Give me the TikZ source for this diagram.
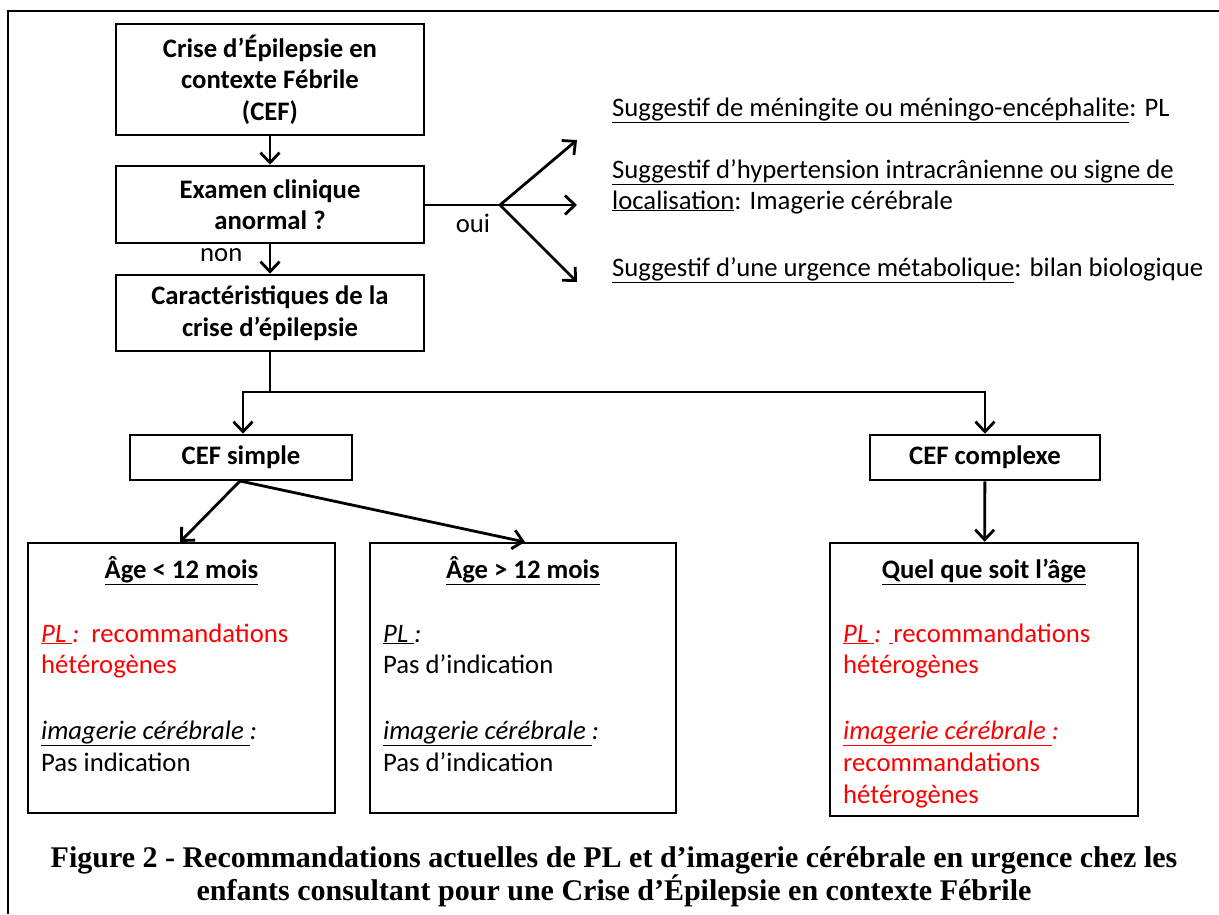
\documentclass[tikz,border=0pt]{standalone}
\usepackage{fontspec}
\setmainfont{Carlito}
\newfontfamily\capfont{Liberation Serif}
\usetikzlibrary{arrows.meta}
\definecolor{redtxt}{RGB}{255,0,0}
\begin{document}
\begin{tikzpicture}[x=1pt,y=-1pt,
  frame/.style={draw,line width=2.6pt,inner sep=0pt},
  box/.style={frame,align=center,font=\bfseries\fontsize{26.7}{31.5}\selectfont},
  con/.style={line width=2.8pt,-{Straight Barb[length=10pt,width=19pt]}},
  plain/.style={line width=2.8pt},
  txt/.style={anchor=base west,inner sep=0pt,font=\fontsize{26.7}{31}\selectfont},
  ttl/.style={anchor=base,inner sep=0pt,font=\bfseries\fontsize{26.7}{31}\selectfont}]
\useasboundingbox (0,0) rectangle (1219,914);
\fill[white] (0,0) rectangle (1219,914);
\draw[line width=2.4pt] (8,914) -- (8,11) -- (1219,11);

% top boxes
\node[box,minimum width=308pt,minimum height=111pt] (cef) at (270,79.5) {Crise d’Épilepsie en\\contexte Fébrile\\(CEF)};
\node[box,minimum width=308pt,minimum height=77pt] (exam) at (270,204.5) {Examen clinique\\anormal ?};
\node[box,minimum width=308pt,minimum height=76pt] (carac) at (270,313) {Caractéristiques de la\\crise d’épilepsie};
\draw[con] (cef) -- (exam);
\draw[con] (exam) -- (carac);
\node[txt] (non) at (200,261) {non};

% branch oui
\coordinate (br) at (500,205);
\draw[plain] (exam.east |- br) -- (br);
\node[txt,anchor=base] (oui) at (473,232) {oui};
\coordinate (t1) at (577,140);
\coordinate (t2) at (577,205);
\coordinate (t3) at (577,282);
\draw[con] (br) -- (t1);
\draw[con] (br) -- (t2);
\draw[con] (br) -- (t3);
\node[txt] (s1) at (612,116) {\underline{Suggestif de méningite ou méningo-encéphalite}: PL};
\node[txt] (s2) at (612,178) {\underline{Suggestif d’hypertension intracrânienne ou signe de}};
\node[txt] (s3) at (612,209) {\underline{localisation}: Imagerie cérébrale};
\node[txt] (s4) at (612,276) {\underline{Suggestif d’une urgence métabolique}: bilan biologique};

% split
\node[box,minimum width=222pt,minimum height=45pt] (simple) at (241,457.5) {CEF simple};
\node[box,minimum width=230pt,minimum height=45pt] (complexe) at (985,457.5) {CEF complexe};
\coordinate (split) at (270,392);
\draw[plain] (carac) -- (split);
\draw[con] (split) -| (simple.north -| 243,0);
\draw[con] (split) -| (complexe);

% bottom boxes
\node[frame,minimum width=307pt,minimum height=270pt] (young) at (181.5,678) {};
\node[frame,minimum width=306pt,minimum height=270pt] (old) at (523,678) {};
\node[frame,minimum width=308pt,minimum height=273pt] (any) at (984,679.5) {};
\coordinate (sp) at (240,481);
\draw[con] (sp) -- (180,542);
\draw[con] (sp) -- (525,542);
\draw[con] (complexe) -- (any);

% young text
\node[ttl] (y1) at (young.center |- 0,578) {\underline{Âge < 12 mois}};
\node[txt,text=redtxt] (y2) at (41,642) {\underline{\textit{PL }}\textit{:}\ \ recommandations};
\node[txt,text=redtxt] (y3) at (41,673) {hétérogènes};
\node[txt] (y4) at (41,739) {\underline{\textit{imagerie cérébrale }}\textit{:}};
\node[txt] (y5) at (41,771) {Pas indication};

% old text
\node[ttl] (o1) at (old.center |- 0,578) {\underline{Âge > 12 mois}};
\node[txt] (o2) at (383,642) {\underline{\textit{PL }}\textit{:}};
\node[txt] (o3) at (383,673) {Pas d’indication};
\node[txt] (o4) at (383,739) {\underline{\textit{imagerie cérébrale }}\textit{:}};
\node[txt] (o5) at (383,771) {Pas d’indication};

% any text
\node[ttl] (a1) at (any.center |- 0,578) {\underline{Quel que soit l’âge}};
\node[txt,text=redtxt] (a2) at (843,642) {\underline{\textit{PL }}\textit{:} \underline{\hspace{4pt}}recommandations};
\node[txt,text=redtxt] (a3) at (843,673) {hétérogènes};
\node[txt,text=redtxt] (a4) at (843,739) {\underline{\textit{imagerie cérébrale }}\textit{:}};
\node[txt,text=redtxt] (a5) at (843,771) {recommandations};
\node[txt,text=redtxt] (a6) at (843,803) {hétérogènes};

% caption
\node[inner sep=0pt,align=center,font=\capfont\bfseries\fontsize{30}{31}\selectfont] (cap) at (614,877)
  {Figure 2 - Recommandations actuelles de PL et d’imagerie cérébrale en urgence chez les\\enfants consultant pour une Crise d’Épilepsie en contexte Fébrile};
\end{tikzpicture}
\end{document}
